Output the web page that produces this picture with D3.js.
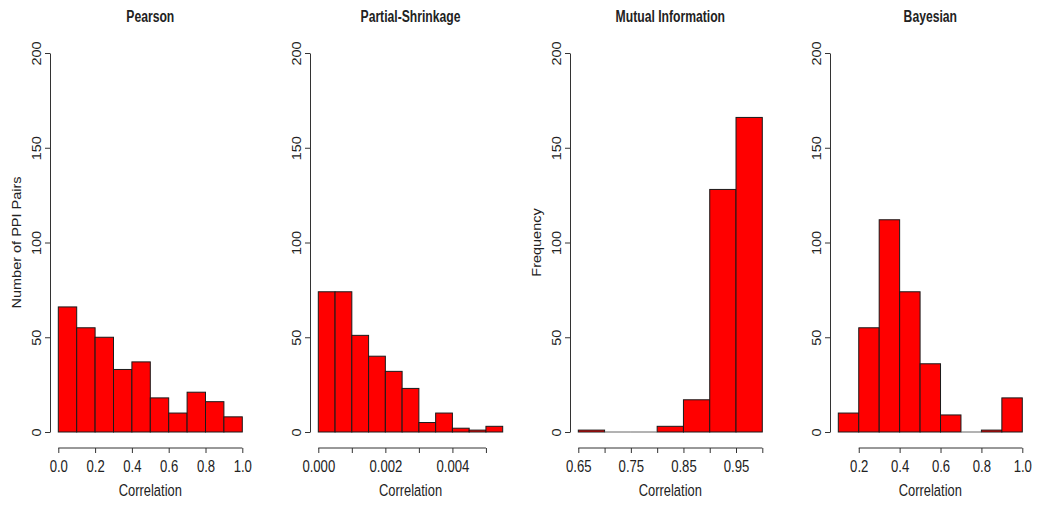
<!DOCTYPE html>
<html>
<head>
<meta charset="utf-8">
<script src="https://cdn.jsdelivr.net/npm/d3@7"></script>
<style>
  body { margin: 0; background: #fff; }
  text { font-family: "Liberation Sans", Arial, sans-serif; fill: #222; }
</style>
</head>
<body>
<div id="viz"></div>
<script>
// histogram data (bin edges + counts per panel)
var titles = ["Pearson", "Partial-Shrinkage", "Mutual Information", "Bayesian"]
var yLabels = ["Number of PPI Pairs", "", "Frequency", ""]

var pearsonBreaks = [0.0, 0.1, 0.2, 0.3, 0.4, 0.5, 0.6, 0.7, 0.8, 0.9, 1.0]
var pearsonCounts = [66, 55, 50, 33, 37, 18, 10, 21, 16, 8]

var shrinkBreaks = [0, 0.0005, 0.001, 0.0015, 0.002, 0.0025, 0.003, 0.0035, 0.004, 0.0045, 0.005, 0.0055]
var shrinkCounts = [74, 74, 51, 40, 32, 23, 5, 10, 2, 1, 3]

var miBreaks = [0.65, 0.70, 0.75, 0.80, 0.85, 0.90, 0.95, 1.0]
var miCounts = [1, 0, 0, 3, 17, 128, 166]

var bayesBreaks = [0.1, 0.2, 0.3, 0.4, 0.5, 0.6, 0.7, 0.8, 0.9, 1.0]
var bayesCounts = [10, 55, 112, 74, 36, 9, 0, 1, 18]

// x ticks (all ticks) and which of them carry a label
var xTicks = [
  [0.0, 0.2, 0.4, 0.6, 0.8, 1.0],
  [0, 0.001, 0.002, 0.003, 0.004, 0.005],
  [0.65, 0.70, 0.75, 0.80, 0.85, 0.90, 0.95, 1.0],
  [0.2, 0.4, 0.6, 0.8, 1.0]
]
var xTickLabels = [
  ["0.0", "0.2", "0.4", "0.6", "0.8", "1.0"],
  ["0.000", "", "0.002", "", "0.004", ""],
  ["0.65", "", "0.75", "", "0.85", "", "0.95", ""],
  ["0.2", "0.4", "0.6", "0.8", "1.0"]
]
var yTicks = [0, 50, 100, 150, 200]

var breaks = [pearsonBreaks, shrinkBreaks, miBreaks, bayesBreaks]
var counts = [pearsonCounts, shrinkCounts, miCounts, bayesCounts]

var W = 1037, H = 506
var panelW = 260
var squish = 0.76   // the original picture is squeezed horizontally

var svg = d3.select("#viz").append("svg")
  .attr("width", W).attr("height", H)

var y = d3.scaleLinear().domain([0, 200]).range([432, 53])

titles.forEach(function(title, i) {
  var off = i * panelW
  var br = breaks[i]
  var x = d3.scaleLinear()
    .domain([br[0], br[br.length - 1]])
    .range([off + 58.3, off + 242.3 + (i == 1 ? 0.4 : 0)])
  var axisX = off + 50
  var g = svg.append("g")

  // bars
  var bins = counts[i].map(function(c, j) { return {x0: br[j], x1: br[j + 1], n: c} })
  g.selectAll("rect").data(bins).enter().append("rect")
    .attr("x", function(d) { return x(d.x0) })
    .attr("width", function(d) { return x(d.x1) - x(d.x0) })
    .attr("y", function(d) { return y(d.n) })
    .attr("height", function(d) { return y(0) - y(d.n) })
    .attr("fill", "#ff0000")
    .attr("stroke", "#1a1a1a")
    .attr("stroke-width", 1)
  // empty bins still leave their border on the baseline
  g.selectAll("line.empty").data(bins.filter(function(d) { return d.n == 0 })).enter().append("line")
    .attr("class", "empty")
    .attr("x1", function(d) { return x(d.x0) })
    .attr("x2", function(d) { return x(d.x1) })
    .attr("y1", y(0)).attr("y2", y(0))
    .attr("stroke", "#666")
    .attr("stroke-width", 1)

  // y axis
  var ya = g.append("g")
    .attr("transform", "translate(" + axisX + ",0)")
    .call(d3.axisLeft(y).tickValues(yTicks).tickSize(5).tickSizeOuter(0))
  ya.select(".domain").attr("stroke", "#333")
  ya.selectAll(".tick line").attr("stroke", "#333")
  ya.selectAll(".tick text")
    .attr("x", null).attr("dy", null)
    .attr("text-anchor", "middle")
    .attr("transform", "translate(-9.5,0) rotate(-90) scale(1," + 0.85 + ")")
    .style("font-size", "14.5px")
    .style("font-family", "Liberation Sans, Arial, sans-serif")
    .attr("fill", "#333")

  // x axis: line runs from first to last tick, as in R
  var ticks = xTicks[i]
  var labs = xTickLabels[i]
  var xa = g.append("g")
    .attr("transform", "translate(0,448)")
    .call(d3.axisBottom(x).tickValues(ticks).tickSize(5)
      .tickFormat(function(d, k) { return labs[k] }))
  xa.select(".domain").remove()
  xa.append("line")
    .attr("x1", x(ticks[0])).attr("x2", x(ticks[ticks.length - 1]))
    .attr("stroke", "#333")
  xa.selectAll(".tick line").attr("stroke", "#333")
  xa.selectAll(".tick text")
    .attr("y", null).attr("dy", null)
    .attr("transform", "translate(0,24) scale(" + 0.82 + ",1)")
    .style("font-size", "16px")
    .style("font-family", "Liberation Sans, Arial, sans-serif")
    .attr("fill", "#333")

  var cx = (x.range()[0] + x.range()[1]) / 2

  // title
  g.append("text")
    .attr("text-anchor", "middle")
    .attr("transform", "translate(" + cx + ",21.5) scale(" + squish + ",1)")
    .style("font-weight", "bold")
    .style("font-size", "16px")
    .text(title)

  // x label
  g.append("text")
    .attr("text-anchor", "middle")
    .attr("transform", "translate(" + cx + ",496) scale(" + squish + ",1)")
    .style("font-size", "17px")
    .text("Correlation")

  // y label
  if (yLabels[i] != "") {
    g.append("text")
      .attr("text-anchor", "middle")
      .attr("transform", "translate(" + (off + 21) + "," + ((y(0) + y(200)) / 2) + ") rotate(-90) scale(1,0.85)")
      .style("font-size", "14.5px")
      .text(yLabels[i])
  }
})
</script>
</body>
</html>
